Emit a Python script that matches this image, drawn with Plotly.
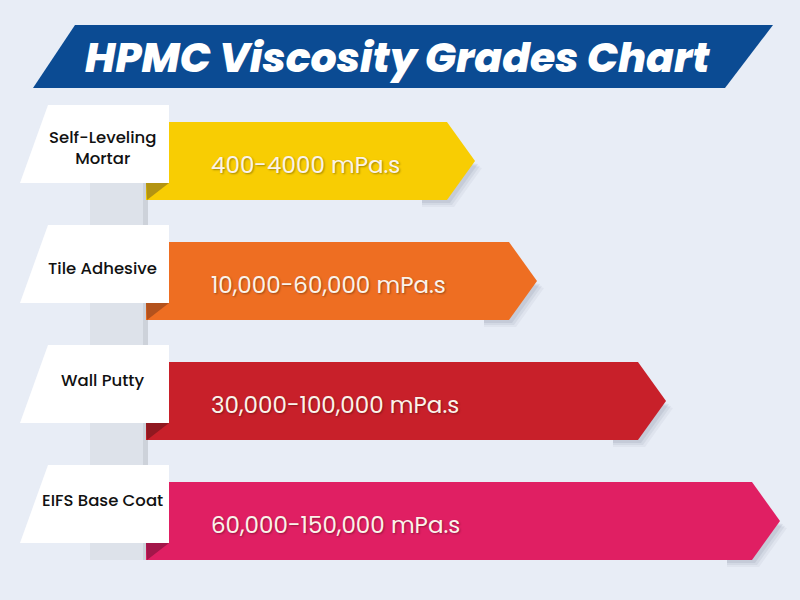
import plotly.graph_objects as go

# ---- data ----
title_text = "HPMC Viscosity Grades Chart"
applications = ["Self-Leveling<br>Mortar", "Tile Adhesive", "Wall Putty", "EIFS Base Coat"]
viscosity_ranges = ["400-4000 mPa.s", "10,000-60,000 mPa.s", "30,000-100,000 mPa.s", "60,000-150,000 mPa.s"]
arrow_lengths = [475, 537, 666, 780]  # relative arrow length (chart units)
bar_colors = ["#f8cd03", "#ee6e22", "#c8202a", "#e01f63"]
fold_colors = ["#b39412", "#b3521d", "#901820", "#a3164a"]

# ---- styling / geometry ----
BG = "#e8edf6"
BLUE = "#0b4b93"
bar_x0 = 146
bar_h = 78
row_top0 = 122
row_step = 120
tip = 28

fig = go.Figure()

def poly(xs, ys, color, opacity=1.0):
    fig.add_trace(go.Scatter(
        x=xs + [xs[0]], y=ys + [ys[0]], mode="lines", fill="toself",
        fillcolor=color, line=dict(width=0, color=color), opacity=opacity,
        hoverinfo="skip", showlegend=False))

# title banner
poly([75, 773, 725, 33], [25, 25, 88, 88], BLUE)

# vertical gray column
poly([90, 146, 146, 90], [120, 120, 560, 560], "#dde2ea")
poly([143, 148, 148, 143], [120, 120, 560, 560], "#cdd2da")

for i, (app, rng, L) in enumerate(zip(applications, viscosity_ranges, arrow_lengths)):
    top = row_top0 + i * row_step
    bot = top + bar_h
    mid = (top + bot) / 2
    # soft shadow near the arrow tip
    for k, a in ((7, 0.06), (5, 0.08), (3, 0.10)):
        sx0 = L - tip - 25
        poly([sx0, L - tip + k, L + k, L - tip + k, sx0],
             [mid, mid, mid + k, bot + k, bot + k], f"rgba(80,92,120,{a})")
    # arrow bar
    poly([bar_x0, L - tip, L, L - tip, bar_x0], [top, top, mid, bot, bot], bar_colors[i])
    # fold triangle
    btop = top - 17
    bbot = btop + bar_h
    poly([bar_x0, 169, bar_x0 + 1], [bbot, bbot, bot], fold_colors[i])
    # label box
    poly([48, 169, 169, 20], [btop, btop, bbot, bbot], "#ffffff")
    label_dy = 43 if i < 2 else 35
    fig.add_annotation(x=102, y=btop + label_dy, text=app, showarrow=False,
                       font=dict(family="Poppins, Open Sans, sans-serif", size=16.5, color="#111111", weight=500),
                       xanchor="center", yanchor="middle", align="center")
    fig.add_annotation(x=209, y=top + 43, text=rng, showarrow=False,
                       font=dict(family="Poppins, Open Sans, sans-serif", size=23, color="#fbf3ea",
                                 shadow="1px 1px 2px rgba(0,0,0,0.35)"),
                       xanchor="left", yanchor="middle")

fig.add_annotation(x=397, y=57, text="<i>" + title_text + "</i>", showarrow=False,
                   font=dict(family="Poppins, Open Sans, sans-serif", size=41, color="#ffffff", weight=800),
                   xanchor="center", yanchor="middle")

fig.update_layout(
    width=800, height=600, margin=dict(l=0, r=0, t=0, b=0),
    paper_bgcolor=BG, plot_bgcolor=BG,
    xaxis=dict(range=[0, 800], visible=False, fixedrange=True),
    yaxis=dict(range=[600, 0], visible=False, fixedrange=True),
    showlegend=False,
)

fig.write_html("out.html", config={"displayModeBar": False},
               post_script="document.body.style.margin='0';document.body.style.background='%s';" % BG)
